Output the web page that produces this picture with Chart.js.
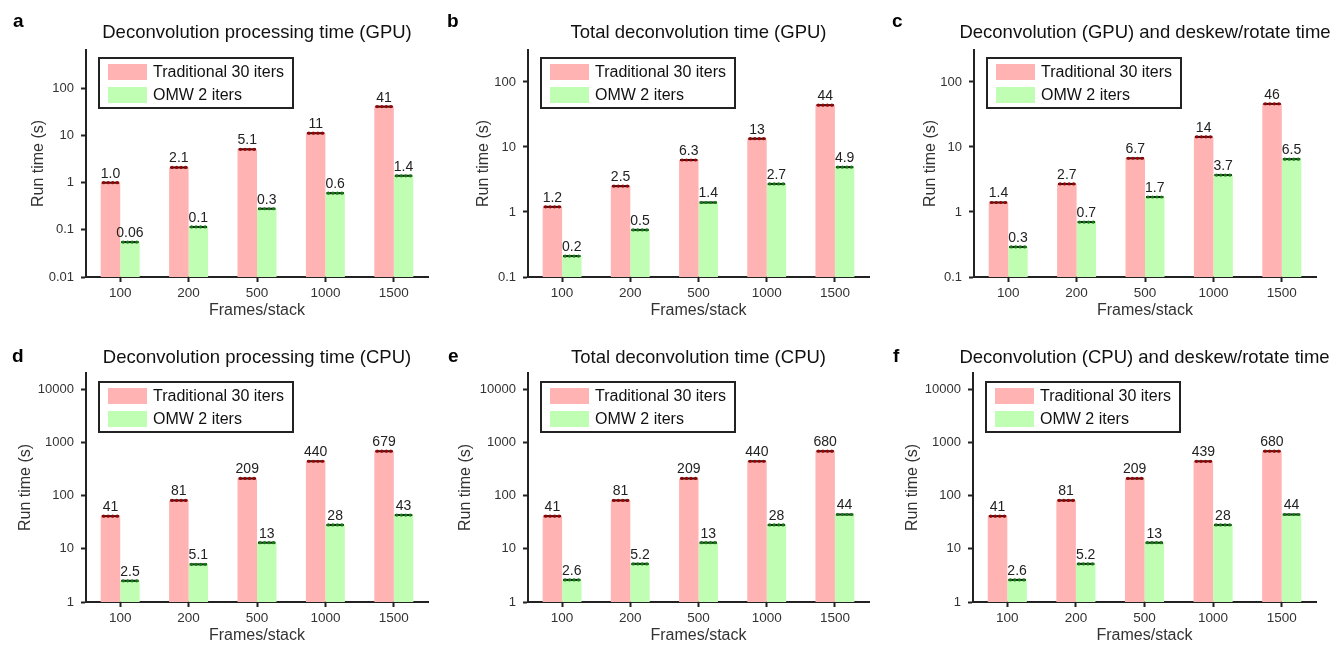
<!DOCTYPE html>
<html>
<head>
<meta charset="utf-8">
<title>Run time comparison</title>
<script src="https://cdn.jsdelivr.net/npm/chart.js@4.4.1/dist/chart.umd.min.js"></script>
<style>
  body { margin: 0; background: #fff; }
  #figure { position: relative; width: 1333px; height: 645px; overflow: hidden; }
  #figure canvas { position: absolute; }
</style>
</head>
<body>
<div id="figure">
  <canvas id="chart-a" width="440" height="320" style="left:0px;top:0px"></canvas>
  <canvas id="chart-b" width="440" height="320" style="left:440px;top:0px"></canvas>
  <canvas id="chart-c" width="448" height="320" style="left:885px;top:0px"></canvas>
  <canvas id="chart-d" width="440" height="325" style="left:0px;top:320px"></canvas>
  <canvas id="chart-e" width="440" height="325" style="left:440px;top:320px"></canvas>
  <canvas id="chart-f" width="448" height="325" style="left:885px;top:320px"></canvas>
</div>
<script>
const frames = ['100', '200', '500', '1000', '1500'];
const seriesNames = ['Traditional 30 iters', 'OMW 2 iters'];

// a - deconvolution processing time (GPU)
const gpuProcTrad = [1.0, 2.1, 5.1, 11.2, 41];
const gpuProcOmw = [0.055, 0.115, 0.28, 0.6, 1.4];
const gpuProcTradLabels = ['1.0', '2.1', '5.1', '11', '41'];
const gpuProcOmwLabels = ['0.06', '0.1', '0.3', '0.6', '1.4'];

// b - total deconvolution time (GPU)
const gpuTotalTrad = [1.2, 2.5, 6.3, 13.4, 44];
const gpuTotalOmw = [0.21, 0.53, 1.4, 2.7, 4.9];
const gpuTotalTradLabels = ['1.2', '2.5', '6.3', '13', '44'];
const gpuTotalOmwLabels = ['0.2', '0.5', '1.4', '2.7', '4.9'];

// c - deconvolution (GPU) and deskew/rotate time
const gpuDeskewTrad = [1.4, 2.7, 6.7, 14.3, 46];
const gpuDeskewOmw = [0.29, 0.7, 1.7, 3.7, 6.5];
const gpuDeskewTradLabels = ['1.4', '2.7', '6.7', '14', '46'];
const gpuDeskewOmwLabels = ['0.3', '0.7', '1.7', '3.7', '6.5'];

// d - deconvolution processing time (CPU)
const cpuProcTrad = [41, 81, 209, 440, 679];
const cpuProcOmw = [2.5, 5.1, 13, 28, 43];
const cpuProcTradLabels = ['41', '81', '209', '440', '679'];
const cpuProcOmwLabels = ['2.5', '5.1', '13', '28', '43'];

// e - total deconvolution time (CPU)
const cpuTotalTrad = [41, 81, 209, 440, 680];
const cpuTotalOmw = [2.6, 5.2, 13, 28, 44];
const cpuTotalTradLabels = ['41', '81', '209', '440', '680'];
const cpuTotalOmwLabels = ['2.6', '5.2', '13', '28', '44'];

// f - deconvolution (CPU) and deskew/rotate time
const cpuDeskewTrad = [41, 81, 209, 439, 680];
const cpuDeskewOmw = [2.6, 5.2, 13, 28, 44];
const cpuDeskewTradLabels = ['41', '81', '209', '439', '680'];
const cpuDeskewOmwLabels = ['2.6', '5.2', '13', '28', '44'];

const gpuTicks = [0.1, 1, 10, 100];
const gpuProcTicks = [0.01, 0.1, 1, 10, 100];
const cpuTicks = [1, 10, 100, 1000, 10000];

const FONT = '"Liberation Sans", Arial, Helvetica, sans-serif';
const PINK = '#ffb3b3';
const GREEN = '#c0ffb3';

// draws the mean markers, value labels, boxed legend, title and panel letter
const panelExtras = {
  id: 'panelExtras',
  afterDatasetsDraw(chart, args, opts) {
    const ctx = chart.ctx;
    const area = chart.chartArea;
    ctx.save();

    chart.data.datasets.forEach((ds, di) => {
      const meta = chart.getDatasetMeta(di);
      meta.data.forEach((bar, i) => {
        const half = bar.width / 2;
        ctx.strokeStyle = '#111';
        ctx.lineWidth = 2;
        ctx.beginPath();
        ctx.moveTo(bar.x - half + 1, bar.y);
        ctx.lineTo(bar.x + half - 1, bar.y);
        ctx.stroke();
        ctx.fillStyle = ds.dotColor;
        for (let k = 0; k < 4; k++) {
          const x = bar.x - half + 3 + k * (bar.width - 6) / 3;
          ctx.beginPath();
          ctx.arc(x, bar.y, 1.6, 0, Math.PI * 2);
          ctx.fill();
        }
        ctx.fillStyle = '#222';
        ctx.font = '14px ' + FONT;
        ctx.textAlign = 'center';
        ctx.textBaseline = 'alphabetic';
        ctx.fillText(ds.valueLabels[i], bar.x, bar.y - 5);
      });
    });

    // legend box in the top-left of the plot area
    const lx = area.left + 13;
    const ly = area.top + 8 + opts.legendShift;
    ctx.strokeStyle = '#222';
    ctx.lineWidth = 2;
    ctx.strokeRect(lx, ly, 194, 50);
    ctx.font = '16px ' + FONT;
    ctx.textAlign = 'left';
    ctx.textBaseline = 'middle';
    chart.data.datasets.forEach((ds, di) => {
      const rowY = ly + 6 + di * 23;
      ctx.fillStyle = ds.backgroundColor;
      ctx.fillRect(lx + 9, rowY, 39, 16);
      ctx.fillStyle = '#111';
      ctx.fillText(ds.label, lx + 54, rowY + 8.5);
    });

    // title centred over the plot area, allowed to run wider than it
    ctx.fillStyle = '#111';
    ctx.font = '18.5px ' + FONT;
    ctx.textAlign = 'center';
    ctx.fillText(opts.title, (area.left + area.right) / 2, opts.titleY);

    ctx.fillStyle = '#000';
    ctx.font = 'bold 19px ' + FONT;
    ctx.textAlign = 'left';
    ctx.textBaseline = 'alphabetic';
    ctx.fillText(opts.letter, opts.letterX, opts.letterY);
    ctx.restore();
  }
};

const panels = [
  { id: 'chart-a', letter: 'a', title: 'Deconvolution processing time (GPU)',
    trad: gpuProcTrad, omw: gpuProcOmw, tradLabels: gpuProcTradLabels, omwLabels: gpuProcOmwLabels,
    yMin: 0.01, yMax: 650, yTicks: gpuProcTicks,
    axisW: 57, left: 86, right: 428, top: 50, titleY: 33, letterX: 13, letterY: 27, legendShift: 0 },
  { id: 'chart-b', letter: 'b', title: 'Total deconvolution time (GPU)',
    trad: gpuTotalTrad, omw: gpuTotalOmw, tradLabels: gpuTotalTradLabels, omwLabels: gpuTotalOmwLabels,
    yMin: 0.1, yMax: 310, yTicks: gpuTicks,
    axisW: 54, left: 88, right: 429, top: 50, titleY: 33, letterX: 7, letterY: 27, legendShift: 0 },
  { id: 'chart-c', letter: 'c', title: 'Deconvolution (GPU) and deskew/rotate time',
    trad: gpuDeskewTrad, omw: gpuDeskewOmw, tradLabels: gpuDeskewTradLabels, omwLabels: gpuDeskewOmwLabels,
    yMin: 0.1, yMax: 310, yTicks: gpuTicks,
    axisW: 53, left: 89, right: 431, top: 50, titleY: 33, letterX: 7, letterY: 27, legendShift: 0 },
  { id: 'chart-d', letter: 'd', title: 'Deconvolution processing time (CPU)',
    trad: cpuProcTrad, omw: cpuProcOmw, tradLabels: cpuProcTradLabels, omwLabels: cpuProcOmwLabels,
    yMin: 1, yMax: 20000, yTicks: cpuTicks,
    axisW: 70, left: 86, right: 428, top: 53, titleY: 38, letterX: 12, letterY: 42, legendShift: 1 },
  { id: 'chart-e', letter: 'e', title: 'Total deconvolution time (CPU)',
    trad: cpuTotalTrad, omw: cpuTotalOmw, tradLabels: cpuTotalTradLabels, omwLabels: cpuTotalOmwLabels,
    yMin: 1, yMax: 20000, yTicks: cpuTicks,
    axisW: 72, left: 88, right: 429, top: 53, titleY: 38, letterX: 8, letterY: 42, legendShift: 1 },
  { id: 'chart-f', letter: 'f', title: 'Deconvolution (CPU) and deskew/rotate time',
    trad: cpuDeskewTrad, omw: cpuDeskewOmw, tradLabels: cpuDeskewTradLabels, omwLabels: cpuDeskewOmwLabels,
    yMin: 1, yMax: 20000, yTicks: cpuTicks,
    axisW: 70, left: 88, right: 431, top: 53, titleY: 38, letterX: 8, letterY: 42, legendShift: 1 }
];

for (const p of panels) {
  const canvas = document.getElementById(p.id);
  new Chart(canvas.getContext('2d'), {
    type: 'bar',
    data: {
      labels: frames,
      datasets: [
        { label: seriesNames[0], data: p.trad, valueLabels: p.tradLabels,
          backgroundColor: PINK, dotColor: '#a00000' },
        { label: seriesNames[1], data: p.omw, valueLabels: p.omwLabels,
          backgroundColor: GREEN, dotColor: '#137a13' }
      ]
    },
    options: {
      responsive: false,
      animation: false,
      devicePixelRatio: 1,
      categoryPercentage: 0.57,
      barPercentage: 1,
      layout: { padding: { left: p.left - p.axisW, right: canvas.width - p.right, top: p.top, bottom: 0 } },
      plugins: {
        legend: { display: false },
        tooltip: { enabled: false },
        title: { display: false },
        panelExtras: { letter: p.letter, title: p.title, titleY: p.titleY,
          letterX: p.letterX, letterY: p.letterY, legendShift: p.legendShift }
      },
      scales: {
        x: {
          offset: true,
          grid: { display: true, offset: false, drawOnChartArea: false, tickLength: 5, tickColor: '#222', tickWidth: 2 },
          border: { display: true, color: '#222', width: 2 },
          ticks: { color: '#333', padding: 3, font: { family: FONT, size: 13.5 } },
          title: { display: true, text: 'Frames/stack', color: '#333', padding: 0, font: { family: FONT, size: 16 } },
          afterFit: scale => { scale.height = 43; }
        },
        y: {
          type: 'logarithmic',
          min: p.yMin,
          max: p.yMax,
          grid: { display: true, drawOnChartArea: false, tickLength: 5, tickColor: '#222', tickWidth: 2 },
          border: { display: true, color: '#222', width: 2 },
          ticks: {
            color: '#333', padding: 7, autoSkip: false,
            font: { family: FONT, size: 13 },
            callback: value => String(value)
          },
          afterBuildTicks: scale => { scale.ticks = p.yTicks.map(v => ({ value: v })); },
          title: { display: true, text: 'Run time (s)', color: '#333', padding: 0, font: { family: FONT, size: 16 } },
          afterFit: scale => { scale.width = p.axisW; }
        }
      }
    },
    plugins: [panelExtras]
  });
}
</script>
</body>
</html>
